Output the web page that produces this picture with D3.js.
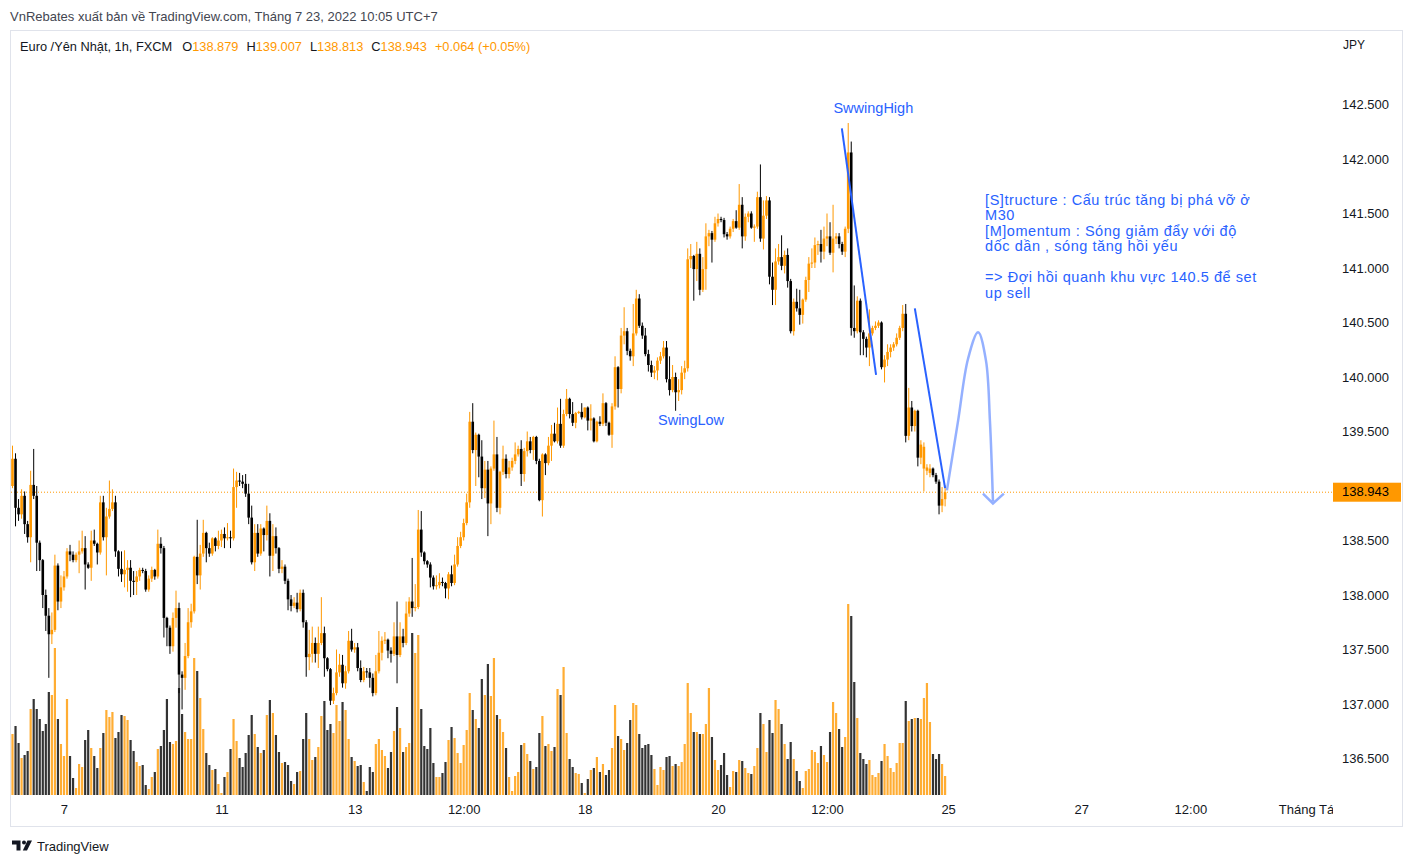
<!DOCTYPE html>
<html>
<head>
<meta charset="utf-8">
<script src="https://cdn.jsdelivr.net/npm/d3@7"></script>
<style>
  html,body{margin:0;padding:0;background:#fff;}
  svg{display:block;}
</style>
</head>
<body>
<svg id="chart" width="1413" height="865"></svg>
<script>
// ---------------- DATA (EUR/JPY 1h, FXCM) ----------------
const opens = [
  139.00,139.25,138.80,138.74,138.91,138.65,138.53,139.01,138.91,138.48,
  138.32,138.00,137.81,137.64,137.68,138.27,137.94,138.07,138.17,138.40,
  138.37,138.32,138.37,138.40,138.43,138.28,138.25,138.50,138.47,138.39,
  138.85,138.53,138.72,138.79,138.85,138.40,138.24,138.19,138.23,138.25,
  138.13,138.12,138.17,138.23,138.22,138.05,138.15,138.23,138.17,
  138.47,138.43,137.79,137.70,137.53,137.79,137.88,137.27,137.24,137.44,
  137.75,137.85,138.35,138.18,138.38,138.57,138.43,138.38,138.52,138.45,
  138.50,138.56,138.52,138.53,138.52,138.99,139.05,139.04,139.02,138.93,
  138.71,138.30,138.57,138.38,138.61,138.55,138.68,138.36,138.54,138.43,
  138.24,138.26,138.13,137.96,137.90,137.93,137.87,138.02,137.75,137.43,
  137.46,137.56,137.46,137.56,137.65,137.42,137.32,137.03,137.10,137.29,
  137.36,137.19,137.30,137.58,137.50,137.52,137.33,137.22,137.30,137.29,
  137.24,137.10,137.30,137.47,137.58,137.59,137.49,137.46,137.62,137.45,
  137.62,137.56,137.83,137.94,137.88,137.89,138.60,138.39,138.31,138.28,
  138.16,138.08,138.09,138.12,138.11,138.06,138.19,138.11,138.28,138.45,
  138.53,138.66,138.85,
  139.59,139.33,139.47,139.27,138.98,139.15,138.84,139.16,139.29,138.80,
  139.13,139.25,139.11,139.17,139.23,139.29,139.34,139.11,139.32,139.41,
  139.33,139.45,139.23,138.87,139.29,139.21,139.37,139.48,139.41,139.57,
  139.37,139.66,139.80,139.66,139.58,139.67,139.68,139.63,139.72,139.60,
  139.62,139.41,139.59,139.57,139.76,139.58,139.47,139.73,140.09,
  139.89,140.38,140.42,140.24,140.19,140.40,140.72,140.47,140.38,140.21,
  140.11,140.04,140.06,140.15,140.19,140.27,139.98,139.88,140.00,139.86,
  139.88,140.04,140.08,141.08,141.11,140.99,141.13,140.80,140.99,141.29,
  141.32,141.26,141.41,141.45,141.44,141.31,141.29,141.36,141.43,141.37,
  141.58,141.29,141.47,141.50,141.37,141.38,141.65,141.27,141.48,141.62,
  140.92,140.80,141.06,141.10,141.02,141.12,140.88,140.42,140.69,140.63,
  140.57,140.71,140.89,141.04,141.05,141.21,141.22,141.15,141.27,141.29,
  141.14,141.27,141.29,141.22,141.15,141.36,142.06,140.45,140.42,140.70,
  140.41,140.35,140.27,140.40,140.45,140.47,140.50,140.09,140.16,140.23,
  140.27,140.30,140.36,140.45,140.58,139.46,139.72,139.55,139.69,139.26,
  139.16,139.14,139.12,139.16,139.10,139.04,138.82,138.879
];
const highs = [
  139.37,139.30,138.88,138.97,138.95,138.68,139.14,139.34,139.00,138.50,
  138.33,138.05,137.88,137.84,138.37,138.29,138.18,138.22,138.43,138.46,
  138.40,138.39,138.50,138.59,138.54,138.30,138.59,138.60,138.48,138.91,
  138.91,138.80,139.05,138.97,138.91,138.41,138.40,138.41,138.32,138.32,
  138.22,138.22,138.25,138.25,138.24,138.18,138.26,138.24,138.60,
  138.53,138.45,137.80,137.72,137.84,138.04,137.93,137.30,137.56,137.88,
  137.92,138.36,138.69,138.46,138.69,138.58,138.48,138.53,138.53,138.59,
  138.60,138.62,138.66,138.59,139.16,139.13,139.12,139.10,139.11,139.02,
  138.82,138.65,138.65,138.65,138.62,138.82,138.75,138.65,138.62,138.44,
  138.32,138.28,138.15,138.00,137.98,138.02,138.05,138.05,137.77,137.68,
  137.71,137.61,137.71,137.98,137.71,137.43,137.33,137.15,137.50,137.46,
  137.45,137.35,137.67,137.69,137.56,137.56,137.40,137.34,137.33,137.33,
  137.28,137.45,137.67,137.62,137.66,137.60,137.52,137.75,137.94,137.75,
  137.69,137.94,137.98,138.34,138.10,138.78,138.77,138.40,138.32,138.30,
  138.18,138.18,138.20,138.16,138.12,138.21,138.27,138.37,138.53,138.58,
  138.70,138.93,139.68,
  139.76,139.49,139.48,139.42,139.23,139.23,139.18,139.60,139.45,139.14,
  139.37,139.29,139.23,139.26,139.40,139.37,139.42,139.35,139.50,139.45,
  139.46,139.46,139.25,139.30,139.30,139.45,139.56,139.58,139.72,139.80,
  139.70,139.89,139.81,139.77,139.68,139.69,139.76,139.72,139.73,139.75,
  139.63,139.60,139.64,139.85,139.77,139.59,139.76,140.19,140.10,
  140.45,140.64,140.45,140.26,140.67,140.80,140.76,140.50,140.45,140.25,
  140.15,140.10,140.18,140.23,140.33,140.33,140.19,140.11,140.04,139.98,
  140.10,140.15,141.18,141.22,141.12,141.24,141.18,141.10,141.41,141.35,
  141.34,141.47,141.50,141.47,141.46,141.33,141.38,141.45,141.53,141.77,
  141.65,141.50,141.52,141.52,141.40,141.70,141.95,141.62,141.66,141.65,
  141.05,141.18,141.22,141.30,141.16,141.18,140.90,140.72,140.81,140.80,
  140.72,140.92,141.10,141.18,141.28,141.25,141.35,141.38,141.50,141.42,
  141.58,141.32,141.32,141.24,141.38,142.33,142.16,140.84,140.74,140.72,
  140.43,140.37,140.62,140.47,140.51,140.52,140.51,140.20,140.30,140.30,
  140.32,140.40,140.47,140.66,140.67,139.90,139.78,139.70,139.70,139.42,
  139.40,139.20,139.20,139.17,139.12,139.06,138.99,139.007
];
const lows = [
  138.98,138.63,138.68,138.70,138.56,138.48,138.30,138.88,138.22,138.22,
  137.88,137.67,137.24,137.55,137.66,137.86,137.88,138.04,138.15,138.31,
  138.30,138.30,138.20,138.38,138.05,138.24,138.13,138.45,138.28,138.37,
  138.50,138.18,138.70,138.77,138.35,138.17,138.12,138.07,138.03,137.98,
  138.00,138.00,138.13,138.20,138.03,138.03,138.12,138.14,138.15,
  138.38,137.61,137.53,137.46,137.48,137.70,137.10,136.95,137.13,137.42,
  137.70,137.83,138.10,138.05,138.35,138.30,138.35,138.36,138.40,138.42,
  138.44,138.43,138.50,138.43,138.50,138.80,139.00,138.98,138.90,138.65,
  138.28,138.22,138.35,138.36,138.40,138.50,138.17,138.22,138.38,138.20,
  138.20,138.10,137.86,137.85,137.88,137.84,137.85,137.70,137.25,137.31,
  137.38,137.38,137.33,137.54,137.25,137.30,136.99,137.00,137.08,137.25,
  137.15,137.14,137.28,137.48,137.47,137.30,137.20,137.20,137.24,137.15,
  137.07,137.08,137.28,137.40,137.55,137.42,137.38,137.44,137.19,137.43,
  137.52,137.54,137.80,137.80,137.85,137.87,138.35,138.28,138.25,138.07,
  138.05,138.05,138.06,138.08,137.97,137.96,138.08,138.09,138.26,138.43,
  138.50,138.64,138.80,
  139.30,139.00,139.08,138.88,138.89,138.54,138.65,139.14,138.76,138.74,
  139.10,139.07,139.07,139.14,139.20,139.27,139.00,139.04,139.27,139.30,
  139.24,139.20,138.86,138.72,139.10,139.19,139.23,139.40,139.39,139.35,
  139.35,139.64,139.62,139.55,139.53,139.66,139.61,139.62,139.51,139.51,
  139.40,139.40,139.55,139.55,139.55,139.46,139.35,139.70,139.72,
  139.85,140.30,140.20,140.15,140.10,140.38,140.45,140.35,140.19,140.05,
  140.00,139.98,139.97,140.12,140.17,139.95,139.83,139.86,139.69,139.78,
  139.84,139.98,140.05,141.00,140.70,140.88,140.75,140.78,140.80,141.20,
  141.05,141.24,141.38,141.42,141.28,141.26,141.27,141.33,141.36,141.35,
  141.18,141.25,141.42,141.36,141.24,141.36,141.24,141.17,141.45,140.85,
  140.66,140.66,141.03,140.98,140.95,140.82,140.40,140.38,140.60,140.48,
  140.49,140.69,140.78,141.00,141.00,141.12,141.05,141.08,141.20,141.12,
  140.96,141.22,141.18,141.12,141.10,141.32,140.38,140.36,140.40,140.20,
  140.20,140.18,140.10,140.38,140.43,140.45,140.07,139.95,140.10,140.18,
  140.24,140.28,140.34,140.42,139.40,139.42,139.50,139.50,139.18,139.20,
  138.95,139.10,139.08,139.08,139.02,138.74,138.76,138.813
];
const closes = [
  139.25,138.80,138.74,138.91,138.65,138.53,139.01,138.91,138.48,138.32,
  138.00,137.81,137.64,137.68,138.27,137.94,138.07,138.17,138.40,138.37,
  138.32,138.37,138.40,138.43,138.28,138.25,138.50,138.47,138.39,138.85,
  138.53,138.72,138.79,138.85,138.40,138.24,138.19,138.23,138.25,138.13,
  138.12,138.17,138.23,138.22,138.05,138.15,138.23,138.17,138.47,
  138.43,137.79,137.70,137.53,137.79,137.88,137.27,137.24,137.44,137.75,
  137.85,138.35,138.18,138.38,138.57,138.43,138.38,138.52,138.45,138.50,
  138.56,138.52,138.53,138.52,138.99,139.05,139.04,139.02,138.93,138.71,
  138.30,138.57,138.38,138.61,138.55,138.68,138.36,138.54,138.43,138.24,
  138.26,138.13,137.96,137.90,137.93,137.87,138.02,137.75,137.43,137.46,
  137.56,137.46,137.56,137.65,137.42,137.32,137.03,137.10,137.29,137.36,
  137.19,137.30,137.58,137.50,137.52,137.33,137.22,137.30,137.29,137.24,
  137.10,137.30,137.47,137.58,137.59,137.49,137.46,137.62,137.45,137.62,
  137.56,137.83,137.94,137.88,137.89,138.60,138.39,138.31,138.28,138.16,
  138.08,138.09,138.12,138.11,138.06,138.19,138.11,138.28,138.45,138.53,
  138.66,138.85,139.59,
  139.33,139.47,139.27,138.98,139.15,138.84,139.16,139.29,138.80,139.13,
  139.25,139.11,139.17,139.23,139.29,139.34,139.11,139.32,139.41,139.33,
  139.45,139.23,138.87,139.29,139.21,139.37,139.48,139.41,139.57,139.37,
  139.66,139.80,139.66,139.58,139.67,139.68,139.63,139.72,139.60,139.62,
  139.41,139.59,139.57,139.76,139.58,139.47,139.73,140.09,139.89,
  140.38,140.42,140.24,140.19,140.40,140.72,140.47,140.38,140.21,140.11,
  140.04,140.06,140.15,140.19,140.27,139.98,139.88,140.00,139.86,139.88,
  140.04,140.08,141.08,141.11,140.99,141.13,140.80,140.99,141.29,141.32,
  141.26,141.41,141.45,141.44,141.31,141.29,141.36,141.43,141.37,141.58,
  141.29,141.47,141.50,141.37,141.38,141.65,141.27,141.48,141.62,140.92,
  140.80,141.06,141.10,141.02,141.12,140.88,140.42,140.69,140.63,140.57,
  140.71,140.89,141.04,141.05,141.21,141.22,141.15,141.27,141.29,141.14,
  141.27,141.29,141.22,141.15,141.36,142.06,140.45,140.42,140.70,140.41,
  140.35,140.27,140.40,140.45,140.47,140.50,140.09,140.16,140.23,140.27,
  140.30,140.36,140.45,140.58,139.46,139.72,139.55,139.69,139.26,139.38,
  139.36,139.17,139.16,139.10,139.04,138.82,138.88,138.943
];
const volumes = [
  61,69,52,37,40,44,86,96,86,76,64,71,103,100,147,76,51,39,96,39,
  17,7,31,28,55,65,47,39,27,47,62,85,78,83,57,63,80,79,75,55,
  44,33,29,30,10,6,18,23,46,
  49,65,96,53,51,54,107,81,63,56,56,137,124,97,66,42,30,25,26,11,
  2,18,23,46,76,54,37,28,42,60,80,61,48,42,45,80,95,82,60,43,
  32,33,30,14,11,23,24,56,82,56,
  35,38,48,79,94,65,71,62,90,74,93,85,56,38,34,29,30,13,4,28,
  23,51,56,45,39,27,43,64,88,67,43,48,52,162,142,160,86,49,46,67,
  32,18,18,22,33,55,68,57,42,32,50,65,102,
  85,76,67,116,100,131,99,137,80,76,63,47,18,4,19,23,50,52,41,34,
  26,28,62,79,49,51,44,48,106,100,128,62,36,28,22,21,12,2,16,25,
  27,38,23,31,20,25,47,90,59,56,45,52,75,
  92,90,61,47,50,51,40,26,10,28,25,38,39,29,31,29,33,51,112,82,
  63,63,61,61,71,107,58,35,25,30,42,20,8,24,23,35,34,27,22,21,
  29,47,82,71,43,75,62,95,86,
  71,51,36,53,36,24,14,7,24,26,45,43,32,49,40,33,63,93,82,66,
  48,58,191,179,113,77,42,36,31,35,20,18,22,34,51,39,27,23,32,52,
  52,94,74,76,77,77,76,97,112,73,41,36,41,31,19
];
const lastPrice = 138.943;
const lastChange = '+0.064 (+0.05%)';
// 139.000 sits under the last-price tag, so it is not listed
const priceTicks = [136.5,137.0,137.5,138.0,138.5,139.5,140.0,140.5,141.0,141.5,142.0,142.5];
// bar-index positions of the time labels (1 bar = 1 hour, weekend hours absent)
const timeTickIndex = [17,69,113,149,189,233,269,309,353,389,429];
const timeTickLabels = ['7','11','13','12:00','18','20','12:00','25','27','12:00','Tháng Tám'];

// drawings (bar index / price)
const trendLines = [
  [[273.9,142.28],[285.2,140.02]],
  [[298.0,140.63],[308.0,138.98]]
];
const projection = [[308.6,138.96],[312.3,139.60],[315.6,140.17],[318.9,140.41],[321.5,140.15],[322.8,139.60],[323.8,138.86]];
const projectionHead = [[320.5,138.93],[323.8,138.84],[327.4,138.93]];
const labels = [
  {text:'SwwingHigh', i:284.3, p:142.417},
  {text:'SwingLow', i:224.1, p:139.546}
];
const noteAnchor = {i:321.2, p:141.573};
const noteLines = [
  '[S]tructure : Cấu trúc tăng bị phá vỡ ở',
  'M30',
  '[M]omentum : Sóng giảm đẩy với độ',
  'dốc dần , sóng tăng hồi yếu',
  '',
  '=> Đợi hồi quanh khu vực 140.5 để set',
  'up sell'
];

// ---------------- DRAW ----------------
const FONT = "'Liberation Sans', Arial, sans-serif";
const UP = '#ff9800', DOWN = '#000000';
const VUP = 'rgba(255,152,0,0.8)', VDOWN = 'rgba(0,0,0,0.8)';
const BLUE = '#2962ff';
const TXT = '#131722';

const svg = d3.select('#chart');
const n = closes.length;
const idx = d3.range(n);

const x = d3.scaleLinear().domain([0, 308]).range([12.5, 945.1]);
const y = d3.scaleLinear().domain([136.5, 142.5]).range([758.5, 104.5]);
const yv = d3.scaleLinear().domain([0, 200]).range([795, 595]);

const up = i => closes[i] >= opens[i];

// header
svg.append('text').attr('x', 10).attr('y', 20.5)
  .attr('font-family', FONT).attr('font-size', 13).attr('fill', '#434651')
  .text('VnRebates xuất bản về TradingView.com, Tháng 7 23, 2022 10:05 UTC+7');

// panel
svg.append('rect').attr('x', 10.5).attr('y', 30.5).attr('width', 1392).attr('height', 796)
  .attr('fill', '#fff').attr('stroke', '#e0e3eb');

const defs = svg.append('defs');
defs.append('clipPath').attr('id', 'plotClip').append('rect')
  .attr('x', 11).attr('y', 31).attr('width', 1322).attr('height', 766);
defs.append('clipPath').attr('id', 'timeClip').append('rect')
  .attr('x', 11).attr('y', 797).attr('width', 1322).attr('height', 29);

const plot = svg.append('g').attr('clip-path', 'url(#plotClip)');

// volume
plot.append('g').selectAll('rect').data(idx).join('rect')
  .attr('x', i => x(i) - 1.1).attr('width', 2.2)
  .attr('y', i => yv(volumes[i])).attr('height', i => yv(0) - yv(volumes[i]))
  .attr('fill', i => up(i) ? VUP : VDOWN);

// last price dotted line
plot.append('line')
  .attr('x1', 11).attr('x2', 1333)
  .attr('y1', y(lastPrice)).attr('y2', y(lastPrice))
  .attr('stroke', UP).attr('stroke-width', 1).attr('stroke-dasharray', '1,2');

// wicks
plot.append('g').selectAll('line').data(idx).join('line')
  .attr('x1', i => x(i)).attr('x2', i => x(i))
  .attr('y1', i => y(highs[i])).attr('y2', i => y(lows[i]))
  .attr('stroke', i => up(i) ? UP : DOWN).attr('stroke-width', 1);

// bodies
plot.append('g').selectAll('rect').data(idx).join('rect')
  .attr('x', i => x(i) - 1.3).attr('width', 2.6)
  .attr('y', i => y(Math.max(opens[i], closes[i])))
  .attr('height', i => Math.max(1, Math.abs(y(opens[i]) - y(closes[i]))))
  .attr('fill', i => up(i) ? UP : DOWN);

// drawings
const line = d3.line().x(d => x(d[0])).y(d => y(d[1]));
plot.append('g').selectAll('path').data(trendLines).join('path')
  .attr('d', line).attr('fill', 'none').attr('stroke', BLUE).attr('stroke-width', 2);

plot.append('path').attr('d', d3.line().x(d => x(d[0])).y(d => y(d[1])).curve(d3.curveCatmullRom)(projection))
  .attr('fill', 'none').attr('stroke', 'rgba(41,98,255,0.5)').attr('stroke-width', 2.5);
plot.append('path').attr('d', line(projectionHead))
  .attr('fill', 'none').attr('stroke', 'rgba(41,98,255,0.5)').attr('stroke-width', 2.5);

plot.append('g').selectAll('text').data(labels).join('text')
  .attr('x', d => x(d.i)).attr('y', d => y(d.p) - 1)
  .attr('text-anchor', 'middle').attr('font-family', FONT).attr('font-size', 14.5)
  .attr('fill', BLUE).text(d => d.text);

const note = plot.append('text').attr('font-family', FONT).attr('font-size', 14.5)
  .attr('letter-spacing', 0.55).attr('fill', BLUE);
noteLines.forEach((t, k) => {
  note.append('tspan').attr('x', x(noteAnchor.i)).attr('y', y(noteAnchor.p) - 1 + k * 15.5).text(t);
});

// legend
const leg = svg.append('text').attr('x', 20).attr('y', 50.5)
  .attr('font-family', FONT).attr('font-size', 12.8).attr('fill', TXT);
leg.append('tspan').text('Euro /Yên Nhật, 1h, FXCM');
const fmt = d3.format('.3f');
const ohlc = [['O', opens[n-1]], ['H', highs[n-1]], ['L', lows[n-1]], ['C', closes[n-1]]];
ohlc.forEach((d, k) => {
  leg.append('tspan').attr('dx', k === 0 ? 10 : 8).text(d[0]);
  leg.append('tspan').attr('fill', UP).text(fmt(d[1]));
});
leg.append('tspan').attr('dx', 8).attr('fill', UP).text(lastChange);

// price axis
const yAxis = d3.axisRight(y).tickValues(priceTicks).tickFormat(fmt).tickSize(0).tickPadding(0);
const ya = svg.append('g').attr('transform', 'translate(1342,0)').call(yAxis);
ya.select('.domain').remove();
ya.selectAll('text').attr('font-family', FONT).attr('font-size', 13).attr('fill', TXT);

svg.append('text').attr('x', 1343).attr('y', 49).attr('font-family', FONT)
  .attr('font-size', 12).attr('fill', TXT).text('JPY');

// last price tag
svg.append('rect').attr('x', 1333).attr('y', y(lastPrice) - 9.5).attr('width', 68).attr('height', 19)
  .attr('fill', UP);
svg.append('text').attr('x', 1342).attr('y', y(lastPrice)).attr('dy', '0.32em')
  .attr('font-family', FONT).attr('font-size', 13).attr('fill', '#000').text(fmt(lastPrice));

// time axis
const xAxis = d3.axisBottom(x).tickValues(timeTickIndex)
  .tickFormat((d, k) => timeTickLabels[k]).tickSize(0).tickPadding(8);
const xa = svg.append('g').attr('clip-path', 'url(#timeClip)')
  .append('g').attr('transform', 'translate(0,797)').call(xAxis);
xa.select('.domain').remove();
xa.selectAll('text').attr('font-family', FONT).attr('font-size', 13).attr('fill', TXT);

// footer logo
const logo = svg.append('g').attr('fill', TXT);
logo.append('path').attr('d', 'M12 840.5h8.5v10h-4v-6h-4.5z');
logo.append('circle').attr('cx', 24).attr('cy', 842.5).attr('r', 2);
logo.append('path').attr('d', 'M27.5 840.5h4.5l-5 10h-4.2z');
svg.append('text').attr('x', 37).attr('y', 850.5).attr('font-family', FONT)
  .attr('font-size', 13).attr('fill', TXT).text('TradingView');
</script>
</body>
</html>
